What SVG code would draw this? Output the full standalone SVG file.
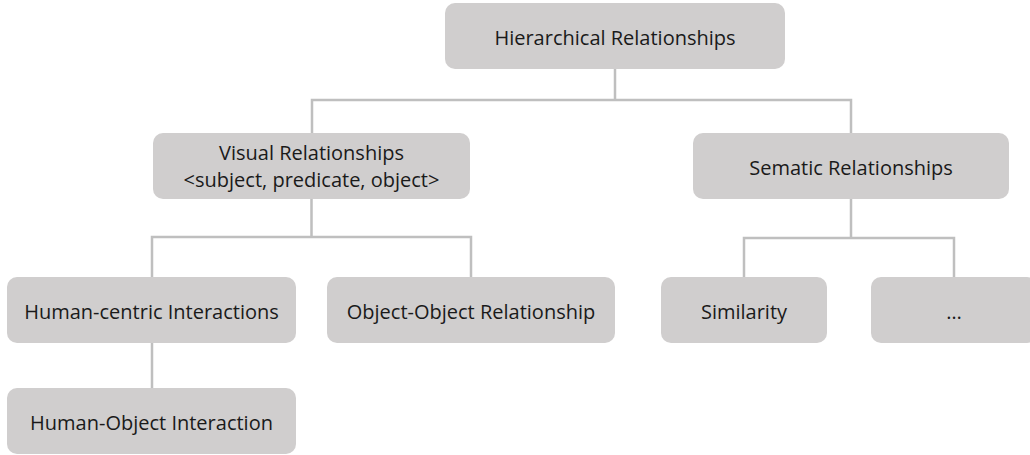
<svg xmlns="http://www.w3.org/2000/svg" width="1030" height="455" viewBox="0 0 1030 455">
  <style>
    .box { fill: #d0cece; }
    .lbl { font-family: "Open Sans", "Liberation Sans", sans-serif; font-size: 20px; fill: #1a1a1a; text-anchor: middle; }
    .wire { fill: none; stroke: #bfbfbf; stroke-width: 2.5; }
  </style>
  <rect width="1030" height="455" fill="#ffffff"/>

  <g id="connectors">
    <path class="wire" d="M615 69 V100 M312 133 V100 H851 V133"/>
    <path class="wire" d="M311.5 199 V237 M152 277 V237 H471 V277"/>
    <path class="wire" d="M851 199 V238 M744 277 V238 H954 V277"/>
    <path class="wire" d="M152 343 V388"/>
  </g>

  <g id="hierarchical">
    <rect class="box" x="445" y="3" width="340" height="66" rx="10"/>
    <text class="lbl" x="615" y="45">Hierarchical Relationships</text>
  </g>
  <g id="visual">
    <rect class="box" x="153" y="133" width="317" height="66" rx="10"/>
    <text class="lbl" x="311.5" y="160">Visual Relationships</text>
    <text class="lbl" x="311.5" y="187">&lt;subject, predicate, object&gt;</text>
  </g>
  <g id="semantic">
    <rect class="box" x="693" y="133" width="316" height="66" rx="10"/>
    <text class="lbl" x="851" y="175">Sematic Relationships</text>
  </g>
  <g id="human-centric">
    <rect class="box" x="7" y="277" width="289" height="66" rx="10"/>
    <text class="lbl" x="151.5" y="319">Human-centric Interactions</text>
  </g>
  <g id="object-object">
    <rect class="box" x="327" y="277" width="288" height="66" rx="10"/>
    <text class="lbl" x="471" y="319">Object-Object Relationship</text>
  </g>
  <g id="similarity">
    <rect class="box" x="661" y="277" width="166" height="66" rx="10"/>
    <text class="lbl" x="744" y="319">Similarity</text>
  </g>
  <g id="more">
    <rect class="box" x="871" y="277" width="166" height="66" rx="10"/>
    <text class="lbl" x="954" y="319">…</text>
  </g>
  <g id="human-object">
    <rect class="box" x="7" y="388" width="289" height="66" rx="10"/>
    <text class="lbl" x="151.5" y="430">Human-Object Interaction</text>
  </g>
</svg>
